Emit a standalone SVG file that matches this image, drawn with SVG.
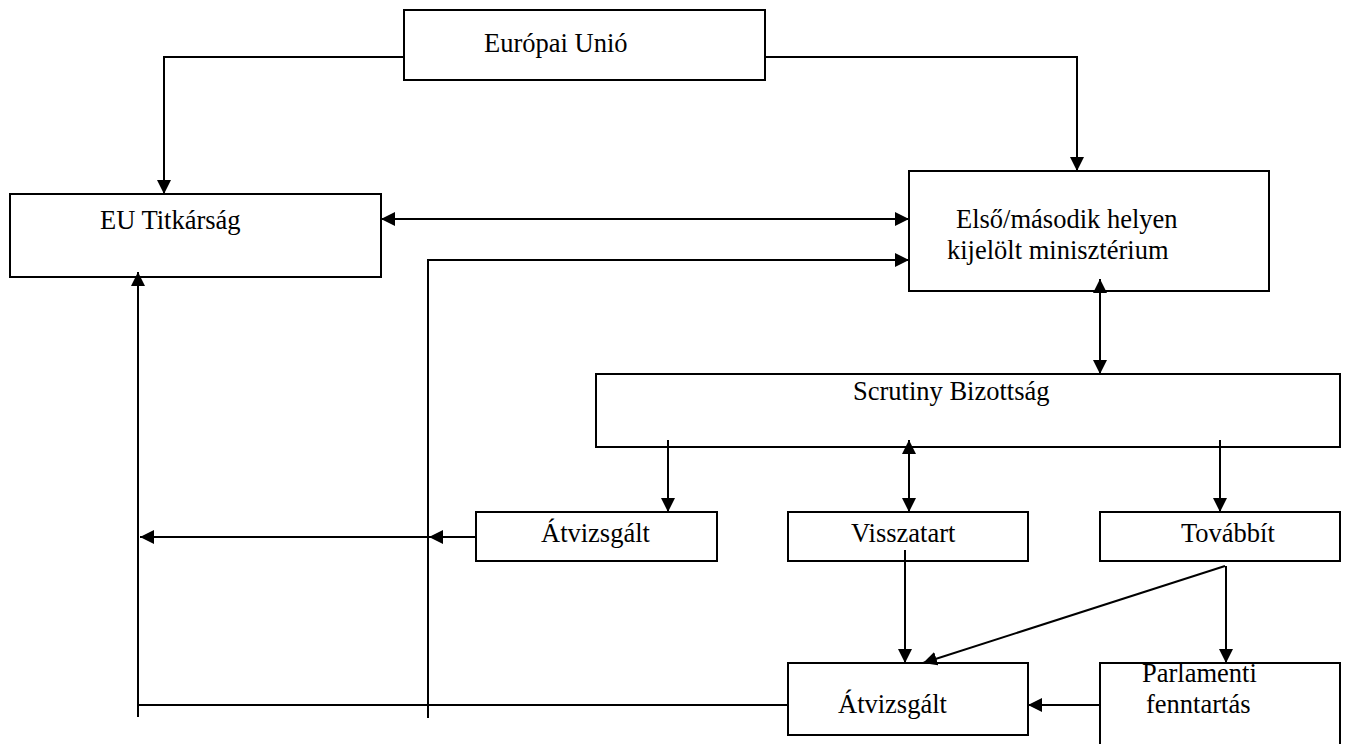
<svg xmlns="http://www.w3.org/2000/svg" width="1349" height="744" viewBox="0 0 1349 744">
<style>
.box{fill:#fff;stroke:#000;stroke-width:2}
.t{font-family:"Liberation Serif","Times New Roman",serif;font-size:26.5px;fill:#000}
.c{fill:none;stroke:#000;stroke-width:2}
</style>
<defs>
<marker id="ah" viewBox="0 0 14 14" refX="14" refY="7" markerWidth="14" markerHeight="14" markerUnits="userSpaceOnUse" orient="auto-start-reverse">
<path d="M0,0 L14,7 L0,14 z" fill="#000"/>
</marker>
</defs>
<rect width="1349" height="744" fill="#fff"/>
<g id="europai-unio">
<rect class="box" x="404" y="10" width="361" height="70"/>
<text class="t" x="484" y="52">Európai Unió</text>
</g>
<g id="eu-titkarsag">
<rect class="box" x="10" y="194" width="371" height="83"/>
<text class="t" x="100" y="229">EU Titkárság</text>
</g>
<g id="miniszterium">
<rect class="box" x="909" y="171" width="360" height="120"/>
<text class="t" x="956" y="228">Első/második helyen</text>
<text class="t" x="947" y="259">kijelölt minisztérium</text>
</g>
<g id="scrutiny">
<rect class="box" x="596" y="374" width="744" height="73"/>
<text class="t" x="853" y="400">Scrutiny Bizottság</text>
</g>
<g id="atvizsgalt1">
<rect class="box" x="476" y="512" width="241" height="49"/>
<text class="t" x="541" y="542">Átvizsgált</text>
</g>
<g id="visszatart">
<rect class="box" x="788" y="512" width="240" height="49"/>
<text class="t" x="851" y="542">Visszatart</text>
</g>
<g id="tovabbit">
<rect class="box" x="1100" y="512" width="240" height="49"/>
<text class="t" x="1181" y="542">Továbbít</text>
</g>
<g id="atvizsgalt2">
<rect class="box" x="788" y="663" width="240" height="72"/>
<text class="t" x="838" y="713">Átvizsgált</text>
</g>
<g id="parlamenti">
<rect class="box" x="1100" y="663" width="240" height="100"/>
<text class="t" x="1142" y="682">Parlamenti</text>
<text class="t" x="1146" y="713">fenntartás</text>
</g>
<g id="connectors">
<path class="c" d="M404,57 H164 V194" marker-end="url(#ah)"/>
<path class="c" d="M765,57 H1077 V171" marker-end="url(#ah)"/>
<path class="c" d="M381,219 H909" marker-start="url(#ah)" marker-end="url(#ah)"/>
<path class="c" d="M428,718 V260 H909" marker-end="url(#ah)"/>
<path class="c" d="M1100,279 V374" marker-start="url(#ah)" marker-end="url(#ah)"/>
<path class="c" d="M668,440 V512" marker-end="url(#ah)"/>
<path class="c" d="M909,440 V512" marker-start="url(#ah)" marker-end="url(#ah)"/>
<path class="c" d="M1220,440 V512" marker-end="url(#ah)"/>
<path class="c" d="M476,537 H429" marker-end="url(#ah)"/>
<path class="c" d="M428,537 H140" marker-end="url(#ah)"/>
<path class="c" d="M788,705 H138"/>
<path class="c" d="M138,717 V272" marker-end="url(#ah)"/>
<path class="c" d="M905,550 V663" marker-end="url(#ah)"/>
<path class="c" d="M1225,566 L923,663" marker-end="url(#ah)"/>
<path class="c" d="M1226,566 V663" marker-end="url(#ah)"/>
<path class="c" d="M1100,705 H1028" marker-end="url(#ah)"/>
</g>
</svg>
